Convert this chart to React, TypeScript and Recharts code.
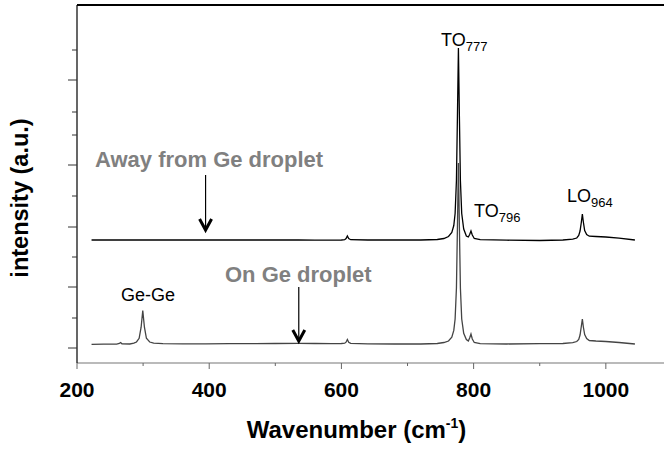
import React from 'react';
import { LineChart, Line, XAxis, YAxis, ReferenceLine, ReferenceDot, Label } from 'recharts';

// Raman spectra, wavenumber (cm-1) vs intensity (a.u.)
const wavenumbers = [
  222, 240, 260, 264, 266, 268, 280, 286, 290, 294, 297, 299.5, 302, 305, 310, 316, 330, 360, 395, 430,
  470, 500, 535, 560, 585, 600, 605, 607, 609, 611, 614, 640, 680, 720, 745, 755, 762, 767, 770, 772,
  774, 775.5, 777, 778.5, 780, 782, 785, 789, 792, 794, 796, 798, 801, 810, 850, 900, 935, 950, 956, 959,
  961, 963, 964.5, 966, 968, 971, 975, 985, 1000, 1020, 1044,
];

const awayFromDroplet = [
  123, 123, 123, 123, 123, 123, 123, 123, 123, 123, 123, 123, 123, 123, 123, 123, 123, 123, 123, 123,
  123, 123, 123, 122.8, 122.8, 123, 123.3, 124.5, 127, 124.5, 123.3, 123, 123, 123, 123.5, 124.5, 126.5, 130.5, 137.5, 149.5,
  182.5, 246, 315, 246, 182.5, 149.5, 134, 127, 126, 128.5, 132, 128, 124.5, 123.3, 122.8, 122.5, 123, 123.8, 125, 127.5,
  132, 141, 149, 141, 132.5, 128.5, 126.8, 126.5, 126, 124.8, 123,
];

const onDroplet = [
  18.7, 18.8, 18.9, 19.5, 20.5, 19.2, 19, 19.8, 21, 24.7, 35.8, 52.5, 35.8, 24.7, 21, 19.8, 19.3, 19.2, 19.2, 19.3,
  19.4, 19.5, 19.7, 19.5, 19.4, 19.5, 19.8, 20.8, 23.5, 20.8, 19.6, 19.2, 19, 19, 19.5, 20.5, 22, 25.9, 32.6, 44,
  75, 135, 200, 135, 75, 44, 29.7, 23.5, 22, 25, 29, 24, 20.5, 19.3, 19, 19.3, 19.5, 20.3, 21.5, 23.5,
  28, 37, 44, 36, 28.5, 24.5, 22.5, 22, 21.5, 20.5, 19,
];

const xMajorTicks = [200, 400, 600, 800, 1000];
const xMinorTicks = [300, 500, 700, 900];
const yMajorTicks = [15, 76, 136, 198, 283];
const yMinorTicks = [45, 106, 167, 228, 251, 313];

const peakLabels = [
  { x: 750.7, y: 317, main: 'TO', sub: '777' },
  { x: 800.6, y: 146, main: 'TO', sub: '796' },
  { x: 941.3, y: 161, main: 'LO', sub: '964' },
  { x: 266.6, y: 62, main: 'Ge-Ge', sub: '' },
];

const sampleLabels = [
  { x: 227.2, y: 196, text: 'Away from Ge droplet' },
  { x: 423.9, y: 81, text: 'On Ge droplet' },
];

const arrows = [
  { x: 394.5, from: 188, to: 133 },
  { x: 535.5, from: 76, to: 22 },
];

const FONT = '"Liberation Sans", Arial, sans-serif';

const data = wavenumbers.map((wn, i) => ({ wn, away: awayFromDroplet[i], on: onDroplet[i] }));

const XTick = (props: any) => {
  const { x, y, payload } = props;
  const major = xMajorTicks.includes(payload.value);
  return (
    <g>
      <line x1={x} x2={x} y1={y} y2={y + (major ? 6 : 3)} stroke="#666" strokeWidth={1} />
      {major && (
        <text x={x} y={y + 34} textAnchor="middle" fontFamily={FONT} fontWeight="bold" fontSize={21} fill="#000">
          {payload.value}
        </text>
      )}
    </g>
  );
};

const YTick = (props: any) => {
  const { x, y, payload } = props;
  const major = yMajorTicks.includes(payload.value);
  return <line x1={x - (major ? 9 : 5)} x2={x} y1={y} y2={y} stroke="#333" strokeWidth={1} />;
};

const XTitle = (props: any) => {
  const vb = props.viewBox;
  return (
    <text x={vb.x + vb.width / 2 - 14} y={vb.y + 75} textAnchor="middle" fontFamily={FONT} fontWeight="bold" fontSize={24} fill="#000">
      Wavenumber (cm
      <tspan fontSize={14} dy={-10}>-1</tspan>
      <tspan dy={10}>)</tspan>
    </text>
  );
};

const YTitle = (props: any) => {
  const vb = props.viewBox;
  const cx = vb.x + 28;
  const cy = vb.y + vb.height / 2 + 14;
  return (
    <text x={cx} y={cy} transform={`rotate(-90 ${cx} ${cy})`} textAnchor="middle" fontFamily={FONT} fontWeight="bold" fontSize={23.5} fill="#000">
      intensity (a.u.)
    </text>
  );
};

const Arrow = (props: any) => {
  const { x1, y1, x2, y2 } = props;
  return (
    <g>
      <line x1={x1} y1={y1} x2={x2} y2={y2 - 2} stroke="#000" strokeWidth={1.2} />
      <path d={`M${x2 - 6},${y2 - 11} L${x2},${y2} L${x2 + 6},${y2 - 11}`} fill="none" stroke="#000" strokeWidth={3} />
    </g>
  );
};

export default function App() {
  return (
    <div style={{ position: 'absolute', left: 0, top: 0, width: 664, height: 450, background: '#fff' }}>
      <LineChart width={664} height={450} data={data} margin={{ top: 5, right: 0, bottom: 0, left: 0 }}>
        <XAxis
          dataKey="wn"
          type="number"
          domain={[200, 1088]}
          ticks={[...xMajorTicks, ...xMinorTicks].sort((a, b) => a - b)}
          interval={0}
          height={87}
          tickSize={0}
          tickMargin={0}
          tickLine={false}
          tick={<XTick />}
          axisLine={{ stroke: '#777', strokeWidth: 1.2 }}
          allowDataOverflow
        >
          <Label content={<XTitle />} />
        </XAxis>
        <YAxis
          type="number"
          domain={[0, 358]}
          ticks={[...yMajorTicks, ...yMinorTicks].sort((a, b) => a - b)}
          interval={0}
          width={77}
          tickSize={0}
          tickMargin={0}
          tickLine={false}
          tick={<YTick />}
          axisLine={{ stroke: '#000', strokeWidth: 1.2 }}
          allowDataOverflow
        >
          <Label content={<YTitle />} />
        </YAxis>
        <ReferenceLine y={358} stroke="#000" strokeWidth={2} />
        <Line dataKey="away" type="linear" stroke="#000" strokeWidth={1.3} dot={false} activeDot={false} isAnimationActive={false} />
        <Line dataKey="on" type="linear" stroke="#444" strokeWidth={1.3} dot={false} activeDot={false} isAnimationActive={false} />
        {arrows.map((a, i) => (
          <ReferenceLine key={'arrow' + i} segment={[{ x: a.x, y: a.from }, { x: a.x, y: a.to }]} shape={<Arrow />} />
        ))}
        {peakLabels.map((p, i) => (
          <ReferenceDot
            key={'peak' + i}
            x={p.x}
            y={p.y}
            r={0}
            shape={(s: any) => (
              <text x={s.cx} y={s.cy} fontFamily={FONT} fontSize={18} fill="#000">
                {p.main}
                {p.sub && <tspan fontSize={13} dy={5}>{p.sub}</tspan>}
              </text>
            )}
          />
        ))}
        {sampleLabels.map((s, i) => (
          <ReferenceDot
            key={'sample' + i}
            x={s.x}
            y={s.y}
            r={0}
            shape={(d: any) => (
              <text x={d.cx} y={d.cy} fontFamily={FONT} fontSize={22} fontWeight="bold" fill="#808080">
                {s.text}
              </text>
            )}
          />
        ))}
      </LineChart>
    </div>
  );
}
